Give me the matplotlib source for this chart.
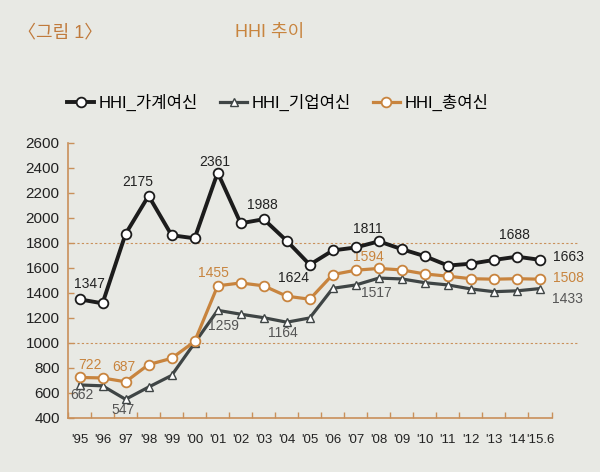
import numpy as np
import matplotlib.pyplot as plt

plt.rcParams['font.family'] = ['Liberation Sans', 'Noto Sans CJK KR', 'DejaVu Sans']
plt.rcParams['font.size'] = 10

years = ["'95", "'96", "97", "'98", "'99", "'00", "'01", "'02", "'03", "'04", "'05",
         "'06", "'07", "'08", "'09", "'10", "'11", "'12", "'13", "'14", "'15.6"]
household = [1347, 1315, 1870, 2175, 1860, 1835, 2361, 1955, 1988, 1815, 1624,
             1738, 1762, 1811, 1748, 1692, 1617, 1632, 1662, 1688, 1663]
corporate = [662, 655, 547, 645, 738, 998, 1259, 1228, 1200, 1164, 1198,
             1435, 1462, 1517, 1510, 1480, 1462, 1430, 1408, 1415, 1433]
total = [722, 718, 687, 825, 875, 1010, 1455, 1478, 1455, 1372, 1348,
         1545, 1580, 1594, 1582, 1550, 1532, 1512, 1508, 1512, 1508]

# (index, dx px, dy px) for the printed value labels
hh_labels = [(0, 10, -15), (3, -11, -14), (6, -3, -11), (8, -1, -14), (10, -16, 13),
             (13, -11, -12), (19, -3, -22), (20, 28, -3)]
co_labels = [(0, 2, 10), (2, -2, 11), (6, 6, 16), (9, -4, 11), (13, -2, 15), (20, 27, 10)]
to_labels = [(0, 10, -12), (2, -2, -15), (6, -4, -13), (13, -10, -11), (20, 28, -1)]

BLACK = '#1c1c1c'
GRAY = '#3f4545'
ORANGE = '#c8843e'
TAN = '#c9905a'
BG = '#e8e9e4'

fig = plt.figure(figsize=(6, 4.72), dpi=100, facecolor=BG)
ax = fig.add_axes([68 / 600, 1 - 417.7 / 472, (578 - 68) / 600, (417.7 - 142.7) / 472])
ax.set_facecolor('none')

x = np.arange(len(years))
ax.axhline(1000, color=TAN, lw=0.8, ls=(0, (2, 2)), zorder=1)
ax.axhline(1800, color=TAN, lw=0.8, ls=(0, (2, 2)), zorder=1)

ax.plot(x, household, color=BLACK, lw=2.8, marker='o', ms=7, mfc='white', mec=BLACK,
        mew=1.3, label='HHI_가계여신', zorder=4)
ax.plot(x, corporate, color=GRAY, lw=2.3, marker='^', ms=5.5, mfc='white', mec=GRAY,
        mew=1.0, label='HHI_기업여신', zorder=3)
ax.plot(x, total, color=ORANGE, lw=2.3, marker='o', ms=7, mfc='white', mec=ORANGE,
        mew=1.3, label='HHI_총여신', zorder=3)

for data, labels, col in [(household, hh_labels, '#222222'), (corporate, co_labels, '#555555'),
                          (total, to_labels, ORANGE)]:
    for i, dx, dy in labels:
        ax.annotate(str(data[i]), xy=(i, data[i]), xytext=(dx, -dy), textcoords='offset pixels',
                    ha='center', va='center', fontsize=10, color=col)

ax.set_xlim(-0.5, 21.65)
ax.set_ylim(400, 2600)
ax.set_yticks(range(400, 2601, 200))
ax.set_xticks(x)
ax.set_xticklabels(years)
ax.set_xticks(np.arange(-0.5, len(years), 1), minor=True)
ax.tick_params(axis='x', which='major', length=0, pad=12, labelsize=9.5, colors='#222222')
ax.tick_params(axis='x', which='minor', length=4, direction='in', color=TAN, width=1)
ax.tick_params(axis='y', length=4, direction='in', color=TAN, width=1, pad=6,
               labelsize=11, labelcolor='#222222')
for s in ['top', 'right']:
    ax.spines[s].set_visible(False)
for s in ['left', 'bottom']:
    ax.spines[s].set_color(TAN)
    ax.spines[s].set_linewidth(1.2)
ax.spines['bottom'].set_bounds(-0.5, 20.5)

fig.legend(loc='center', bbox_to_anchor=(278 / 600, 1 - 102 / 472), ncol=3, frameon=False,
           fontsize=12, handlelength=1.6, columnspacing=1.3, handletextpad=0.3)

fig.text(18 / 600, 1 - 33 / 472, '〈그림 1〉', fontsize=13, color='#c07a3c', va='center')
fig.text(270 / 600, 1 - 33 / 472, 'HHI 추이', fontsize=13, color='#c8843e', va='center', ha='center')

fig.savefig('out.png', dpi=100, facecolor=BG)
